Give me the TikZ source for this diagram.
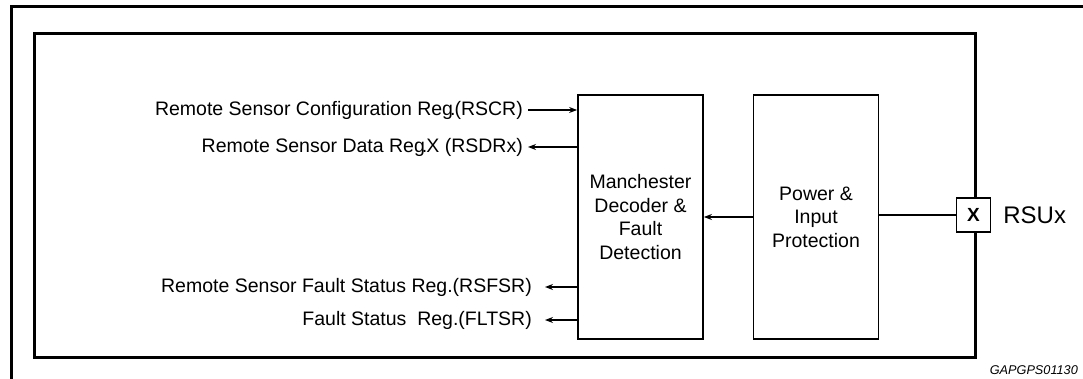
\documentclass[tikz,border=0pt]{standalone}
\usepackage{fontspec}
\setmainfont{Liberation Sans}
\usetikzlibrary{%
    arrows.meta,
    calc,
    positioning
}
\tikzset{headarrow/.style = {-{Stealth[length=8pt,width=6pt]}, line width=1.2pt}}

\begin{document}
\begin{tikzpicture}[
    x=1pt, y=-1pt,
    block/.style = {draw, line width=1.8pt, minimum width=125pt, minimum height=244pt,
        align=center, font=\fontsize{19.5}{23.5}\selectfont},
    reglabel/.style = {inner sep=0pt, anchor=east, font=\fontsize{19.5}{23}\selectfont}]
    \useasboundingbox (0,0) rectangle (1083,379);

    % frames
    \draw[line width=3pt] (11,379) -- (11,7) -- (1083,7);
    \draw[line width=3pt] (34,34) rectangle (975,357);

    % blocks
    \node[block] (mdec) at (640.5,217) {Manchester\\Decoder \&\\Fault\\Detection};
    \node[block] (pwr) at (816,217) {Power \&\\Input\\Protection};
    \node[draw, fill=white, line width=1.3pt, minimum size=34pt, inner sep=0pt,
        font=\fontsize{19}{19}\selectfont\bfseries] (pinx) at (973.5,215) {X};
    \node[anchor=west, inner sep=0pt, font=\fontsize{24}{24}\selectfont]
        (rsux) [right=12pt of pinx] {RSUx};

    % register labels
    \node[reglabel] (rscr) at (523,110) {Remote Sensor Configuration Reg\kern-3pt.\kern-1pt(RSCR)};
    \node[reglabel] (rsdr) at (523,147) {Remote Sensor Data Reg\kern-3pt.\kern-1ptX (RSDRx)};
    \node[reglabel] (rsfsr) at (532,287) {Remote Sensor Fault Status Reg.(RSFSR)};
    \node[reglabel] (fltsr) at (532,320) {Fault Status\ \ Reg.(FLTSR)};

    \draw[headarrow] ([xshift=5pt]rscr.east) -- (rscr.east -| mdec.west);
    \draw[headarrow] (rsdr.east -| mdec.west) -- ([xshift=5pt]rsdr.east);
    \draw[headarrow] (rsfsr.east -| mdec.west) -- ([xshift=13pt]rsfsr.east);
    \draw[headarrow] (fltsr.east -| mdec.west) -- ([xshift=13pt]fltsr.east);

    \draw[headarrow] (pwr.west |- mdec) -- (mdec.east);
    \draw[line width=1.2pt] (pwr.east |- pinx) -- (pinx.west);

    \node[anchor=east, inner sep=0pt, font=\fontsize{12.7}{13}\selectfont\itshape]
        (code) at (1078,370) {GAPGPS01130};
\end{tikzpicture}
\end{document}
